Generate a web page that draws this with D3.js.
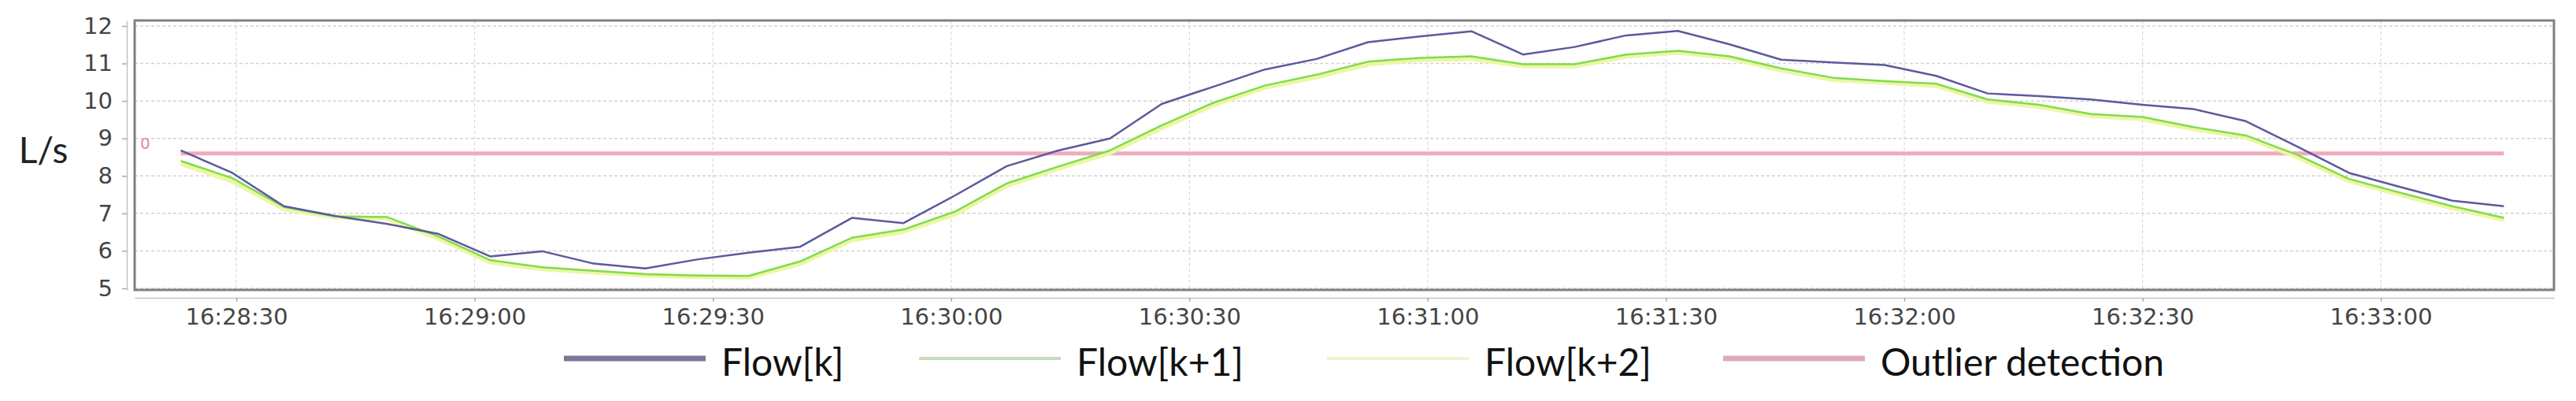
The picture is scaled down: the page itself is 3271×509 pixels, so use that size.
<!DOCTYPE html>
<html>
<head>
<meta charset="utf-8">
<script src="https://cdn.jsdelivr.net/npm/d3@7"></script>
<style>
  body { margin: 0; background: #fff; }
  svg { display: block; }
</style>
</head>
<body>
<div id="chart"></div>
<script>
// sample times (hh:mm:ss.s)
var times = [
  "16:28:23.0","16:28:29.5","16:28:36.0","16:28:42.5","16:28:49.0","16:28:55.5",
  "16:29:02.0","16:29:08.5","16:29:15.0","16:29:21.5","16:29:28.0","16:29:34.5",
  "16:29:41.0","16:29:47.5","16:29:54.0","16:30:00.5","16:30:07.0","16:30:13.5",
  "16:30:20.0","16:30:26.5","16:30:33.0","16:30:39.5","16:30:46.0","16:30:52.5",
  "16:30:59.0","16:31:05.5","16:31:12.0","16:31:18.5","16:31:25.0","16:31:31.5",
  "16:31:38.0","16:31:44.5","16:31:51.0","16:31:57.5","16:32:04.0","16:32:10.5",
  "16:32:17.0","16:32:23.5","16:32:30.0","16:32:36.5","16:32:43.0","16:32:49.5",
  "16:32:56.0","16:33:02.5","16:33:09.0","16:33:15.5"
];

var flowK = [8.68, 8.08, 7.19, 6.93, 6.72, 6.45, 5.85, 5.99, 5.66, 5.53, 5.77, 5.95,
  6.11, 6.88, 6.74, 7.48, 8.26, 8.68, 9.00, 9.92, 10.38, 10.84, 11.12, 11.57,
  11.72, 11.86, 11.24, 11.44, 11.75, 11.87, 11.51, 11.10, 11.03, 10.96, 10.67, 10.20,
  10.13, 10.04, 9.90, 9.78, 9.46, 8.78, 8.08, 7.70, 7.34, 7.19];

var flowK1 = [8.40, 7.94, 7.17, 6.92, 6.90, 6.38, 5.75, 5.56, 5.47, 5.38, 5.34, 5.33,
  5.72, 6.35, 6.57, 7.05, 7.80, 8.25, 8.68, 9.35, 9.95, 10.41, 10.70, 11.05,
  11.15, 11.19, 10.98, 10.98, 11.24, 11.34, 11.19, 10.87, 10.62, 10.53, 10.46, 10.04,
  9.90, 9.65, 9.57, 9.30, 9.08, 8.56, 7.92, 7.55, 7.19, 6.88];

var flowK2 = [8.33, 7.86, 7.12, 6.90, 6.86, 6.33, 5.70, 5.52, 5.43, 5.35, 5.31, 5.30,
  5.66, 6.29, 6.52, 6.98, 7.74, 8.20, 8.62, 9.28, 9.89, 10.36, 10.64, 10.98,
  11.10, 11.13, 10.94, 10.93, 11.19, 11.30, 11.15, 10.82, 10.57, 10.49, 10.41, 9.99,
  9.85, 9.61, 9.52, 9.25, 9.03, 8.51, 7.87, 7.50, 7.14, 6.83];

var outlierLevel = 8.6;
var outlierLabel = "0";

var yTicks = [5, 6, 7, 8, 9, 10, 11, 12];
var xDomain = ["16:28:17.2", "16:33:21.8"];
var yDomain = [4.958, 12.147];

var legendNames = ["Flow[k]", "Flow[k+1]", "Flow[k+2]", "Outlier detection"];

function init(){

    var w = 3271;
    var h = 509;

    var left = 171, right = 3243, top = 26, bottom = 368;

    function parseT(s){
        var p = s.split(":");
        return new Date(2000, 0, 1, +p[0], +p[1], 0, Math.round(+p[2]*1000));
    }

    var dates = times.map(parseT);

    var x = d3.scaleTime()
              .domain(xDomain.map(parseT))
              .range([left, right]);

    var y = d3.scaleLinear()
              .domain(yDomain)
              .range([bottom, top]);

    var svg = d3.select("#chart")
                .append("svg")
                .attr("width", w)
                .attr("height", h);

    // gridlines
    var xTickVals = x.ticks(d3.timeSecond.every(30));

    svg.append("g").selectAll("line")
       .data(yTicks)
       .enter().append("line")
       .attr("x1", left).attr("x2", right)
       .attr("y1", function(d){ return y(d); })
       .attr("y2", function(d){ return y(d); })
       .attr("stroke", "#d2d2d2")
       .attr("stroke-width", 1.5)
       .attr("stroke-dasharray", "4,3");

    svg.append("g").selectAll("line")
       .data(xTickVals)
       .enter().append("line")
       .attr("y1", top).attr("y2", bottom)
       .attr("x1", function(d){ return x(d); })
       .attr("x2", function(d){ return x(d); })
       .attr("stroke", "#dadada")
       .attr("stroke-width", 1.2)
       .attr("stroke-dasharray", "4,3");

    // axes, offset from the plot frame
    var xAxis = d3.axisBottom(x)
                  .tickValues(xTickVals)
                  .tickFormat(d3.timeFormat("%H:%M:%S"))
                  .tickSizeInner(5)
                  .tickSizeOuter(0)
                  .tickPadding(8);

    var yAxis = d3.axisLeft(y)
                  .tickValues(yTicks)
                  .tickFormat(d3.format("d"))
                  .tickSizeInner(6)
                  .tickSizeOuter(0)
                  .tickPadding(12);

    var gx = svg.append("g")
                .attr("transform", "translate(0," + (bottom + 10) + ")")
                .call(xAxis);

    var gy = svg.append("g")
                .attr("transform", "translate(" + (left - 10) + ",0)")
                .call(yAxis);

    [gx, gy].forEach(function(g){
        g.select(".domain").attr("stroke", "#c4c4c4").attr("stroke-width", 1.5);
        g.selectAll(".tick line").attr("stroke", "#aaa").attr("stroke-width", 1.5);
        g.selectAll("text")
         .attr("fill", "#444")
         .style("font-family", "'DejaVu Sans', sans-serif")
         .style("font-size", "29px");
    });

    // outlier threshold
    svg.append("line")
       .attr("x1", x(dates[0]))
       .attr("x2", x(dates[dates.length - 1]))
       .attr("y1", y(outlierLevel))
       .attr("y2", y(outlierLevel))
       .attr("stroke", "#efaabb")
       .attr("stroke-width", 5);

    svg.append("text")
       .attr("x", left + 7)
       .attr("y", y(outlierLevel) - 6)
       .attr("fill", "#e08a98")
       .style("font-family", "'DejaVu Sans', sans-serif")
       .style("font-size", "20px")
       .text(outlierLabel);

    var line = d3.line()
                 .x(function(d, i){ return x(dates[i]); })
                 .y(function(d){ return y(d); });

    var series = [
        {vals: flowK2, color: "#eef6a6", width: 6},
        {vals: flowK1, color: "#80dc50", width: 2.5},
        {vals: flowK,  color: "#5a5a9e", width: 2.5}
    ];

    svg.append("g").selectAll("path")
       .data(series)
       .enter().append("path")
       .attr("fill", "none")
       .attr("stroke", function(d){ return d.color; })
       .attr("stroke-width", function(d){ return d.width; })
       .attr("stroke-linejoin", "round")
       .attr("d", function(d){ return line(d.vals); });

    // plot frame
    svg.append("rect")
       .attr("x", left).attr("y", top)
       .attr("width", right - left)
       .attr("height", bottom - top)
       .attr("fill", "none")
       .attr("stroke", "#808080")
       .attr("stroke-width", 3);

    // y title
    svg.append("text")
       .attr("x", 55)
       .attr("y", y(8.6) + 12)
       .attr("text-anchor", "middle")
       .attr("fill", "#222")
       .style("font-family", "Lato, sans-serif")
       .style("font-size", "46px")
       .text("L/s");

    // legend
    var swatchColors = ["#7b7899", "#c6dbb9", "#eef4d2", "#dcaabb"];
    var swatchWidths = [7, 4, 4, 7];
    var swatchX = [716, 1167, 1685, 2188];
    legendNames.forEach(function(name, i){
        svg.append("line")
           .attr("x1", swatchX[i]).attr("x2", swatchX[i] + 180)
           .attr("y1", 455).attr("y2", 455)
           .attr("stroke", swatchColors[i])
           .attr("stroke-width", swatchWidths[i]);
        svg.append("text")
           .attr("x", swatchX[i] + 200)
           .attr("y", 477)
           .attr("fill", "#111")
           .style("font-family", "Lato, sans-serif")
           .style("font-size", "48px")
           .text(name);
    });
}

window.onload = init;
</script>
</body>
</html>
